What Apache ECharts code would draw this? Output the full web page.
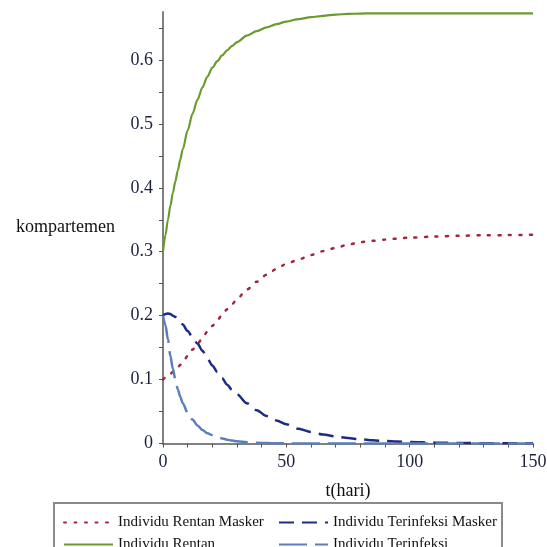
<!DOCTYPE html>
<html>
<head>
<meta charset="utf-8">
<script src="https://cdn.jsdelivr.net/npm/echarts@6/dist/echarts.min.js"></script>
<style>
html,body{margin:0;padding:0;background:#fff;}
#chart{width:547px;height:547px;}
</style>
</head>
<body>
<div id="chart"></div>
<script>
const tDays = [0,1,2,3,4,5,6,7,8,10,12,14,16,18,20,22,24,26,28,30,34,38,42,46,50,55,60,65,70,75,80,85,90,95,100,110,120,130,140,150];
const rentan = [0.300,0.326,0.350,0.372,0.392,0.410,0.427,0.444,0.460,0.490,0.516,0.538,0.557,0.574,0.588,0.598,0.607,0.615,0.622,0.628,0.638,0.645,0.651,0.656,0.660,0.664,0.667,0.669,0.671,0.672,0.6725,0.673,0.673,0.673,0.673,0.673,0.673,0.673,0.673,0.673];
const rentanMasker = [0.100,0.103,0.106,0.109,0.112,0.1155,0.119,0.123,0.127,0.137,0.147,0.156,0.165,0.175,0.184,0.193,0.201,0.210,0.218,0.226,0.241,0.253,0.264,0.273,0.281,0.288,0.295,0.301,0.306,0.311,0.315,0.317,0.319,0.3205,0.322,0.3237,0.325,0.3257,0.326,0.3265];
const terinfeksiMasker = [0.200,0.2025,0.2035,0.2025,0.200,0.198,0.195,0.191,0.186,0.176,0.166,0.156,0.145,0.133,0.122,0.112,0.102,0.092,0.084,0.077,0.063,0.052,0.043,0.036,0.030,0.023,0.018,0.014,0.011,0.0085,0.0066,0.005,0.0038,0.003,0.0023,0.0014,0.0008,0.0005,0.0003,0.0002];
const terinfeksi = [0.200,0.185,0.163,0.137,0.117,0.100,0.085,0.073,0.063,0.048,0.037,0.028,0.021,0.016,0.013,0.010,0.008,0.006,0.0045,0.0035,0.002,0.001,0.0006,0.0003,0.0002,0.0001,0,0,0,0,0,0,0,0,0,0,0,0,0,0];
const xTickValues = [0,10,20,30,40,50,60,70,80,90,100,110,120,130,140,150];
const xLabelValues = [0,50,100,150];
const yTickValues = [0,0.05,0.1,0.15,0.2,0.25,0.3,0.35,0.4,0.45,0.5,0.55,0.6,0.65];
const yLabelValues = [0,0.1,0.2,0.3,0.4,0.5,0.6];
const names = ['Individu Rentan Masker','Individu Rentan','Individu Terinfeksi Masker','Individu Terinfeksi'];

const pairs = arr => tDays.map((t,i)=>[t,arr[i]]);
const font = '"Liberation Serif","Times New Roman",serif';
const chart = echarts.init(document.getElementById('chart'));
const axisCommon = {
  axisLine:{show:true,onZero:false,lineStyle:{color:'#808080',width:2}},
  splitLine:{show:false},
};
const legendPos = [[58,510],[58,532],[273,510],[273,532]];
const legends = names.map((n,i)=>({
  orient:'horizontal',left:legendPos[i][0],top:legendPos[i][1],
  itemWidth:49,itemHeight:14,
  itemStyle:{opacity:0,borderWidth:0},
  data:[n],textStyle:{fontFamily:font,fontSize:15,color:'#111'}
}));
chart.setOption({
  animation:false,
  backgroundColor:'#fff',
  grid:{left:163,right:14,top:12,bottom:103.5,outerBoundsMode:'none'},
  xAxis:Object.assign({
    type:'value',min:0,max:150,interval:50,
    name:'t(hari)',nameLocation:'middle',nameGap:39,
    nameTextStyle:{fontFamily:font,fontSize:18,color:'#111'},
    axisTick:{show:true,length:4,customValues:xTickValues,lineStyle:{color:'#555',width:1}},
    axisLabel:{customValues:xLabelValues,fontFamily:font,fontSize:18,color:'#1a2040',margin:10}
  },axisCommon),
  yAxis:Object.assign({
    type:'value',min:0,max:0.675,interval:0.1,
    name:'kompartemen',nameLocation:'middle',nameRotate:0,nameGap:48,
    nameTextStyle:{fontFamily:font,fontSize:18,color:'#111'},
    axisTick:{show:true,length:4,customValues:yTickValues,lineStyle:{color:'#555',width:1}},
    axisLabel:{customValues:yLabelValues,fontFamily:font,fontSize:18,color:'#1a2040',margin:10}
  },axisCommon),
  legend:legends,
  graphic:[{type:'rect',shape:{x:54,y:503,width:448,height:60},style:{fill:'none',stroke:'#8a8a8a',lineWidth:2},z:-1}],
  series:[
    {name:names[0],type:'line',data:pairs(rentanMasker),symbol:'none',smooth:0.3,smoothMonotone:'x',
     lineStyle:{color:'#a0283c',width:2.5,type:[2,8.5],cap:'round'},itemStyle:{color:'#a0283c'}},
    {name:names[1],type:'line',data:pairs(rentan),symbol:'none',smooth:0.3,smoothMonotone:'x',
     lineStyle:{color:'#6b9b2e',width:2.2},itemStyle:{color:'#6b9b2e'}},
    {name:names[2],type:'line',data:pairs(terinfeksiMasker),symbol:'none',smooth:0.3,smoothMonotone:'x',
     lineStyle:{color:'#1c2c86',width:2.5,type:[15,8]},itemStyle:{color:'#1c2c86'}},
    {name:names[3],type:'line',data:pairs(terinfeksi),symbol:'none',smooth:0.3,smoothMonotone:'x',
     lineStyle:{color:'#5b7fb8',width:2.5,type:[28,8]},itemStyle:{color:'#5b7fb8'}}
  ]
});
</script>
</body>
</html>
